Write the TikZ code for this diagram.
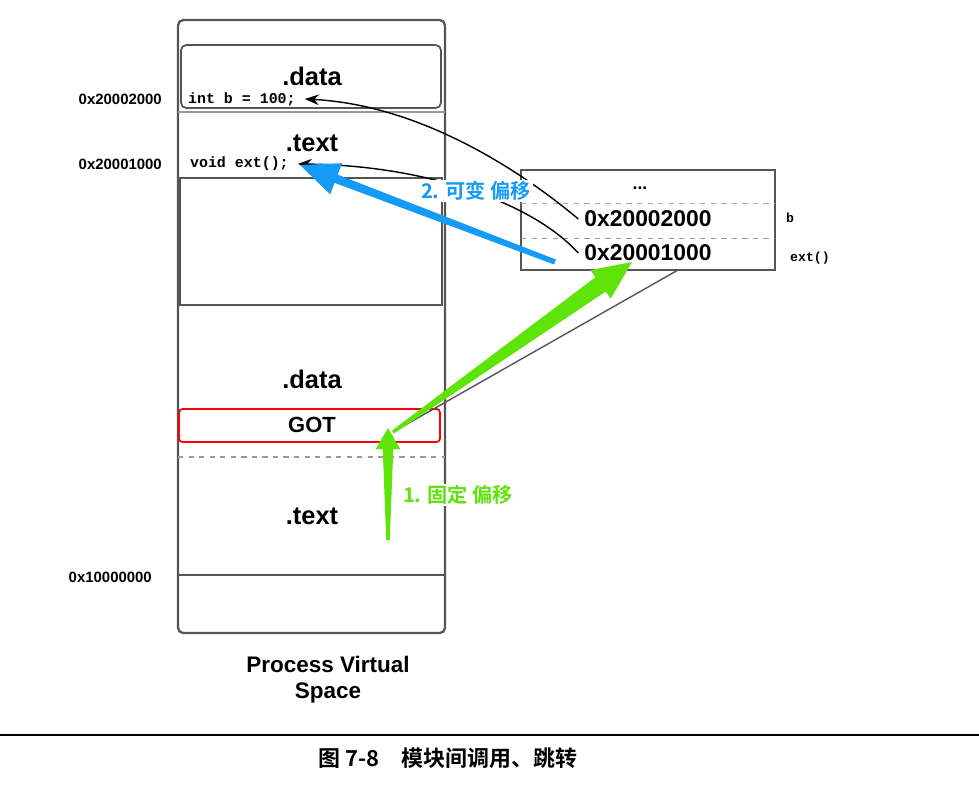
\documentclass[tikz,border=0pt]{standalone}
\usepackage{fontspec}
\setmainfont{Liberation Sans}
\setmonofont{Liberation Mono}
\newfontfamily\cjk{Noto Sans CJK SC}[BoldFont={Noto Sans CJK SC Bold}]
\usetikzlibrary{calc,arrows.meta}

\definecolor{frame}{RGB}{85,85,85}
\definecolor{arrowblue}{RGB}{20,155,245}
\definecolor{arrowgreen}{RGB}{95,228,10}

\tikzset{
  seg/.style={draw=frame, line width=1pt},
  sectlabel/.style={font=\bfseries\fontsize{14.5}{16}\selectfont},
  code/.style={font=\ttfamily\bfseries\fontsize{8.5}{10}\selectfont, anchor=west, inner sep=1pt},
  addr/.style={font=\bfseries\fontsize{8.5}{10}\selectfont, anchor=east},
  slot/.style={font=\bfseries\fontsize{13}{15}\selectfont},
  ptr/.style={-{Stealth[length=8pt,width=6pt]}, line width=0.8pt},
  steplabel/.style={font=\cjk\bfseries\fontsize{11.5}{13}\selectfont, inner sep=1pt, fill=white}
}

% tapered arrow: colour, tail, tip, tail/neck/head half-width, head length
\newcommand{\taperarrow}[7]{
  \coordinate (neck) at ($(#3)!#7!(#2)$);
  \fill[#1] ($(#2)!#4!90:(#3)$) -- ($(neck)!#5!90:(#3)$) -- ($(neck)!#6!90:(#3)$) -- (#3)
    -- ($(neck)!#6!-90:(#3)$) -- ($(neck)!#5!-90:(#3)$) -- ($(#2)!#4!-90:(#3)$) -- cycle;
}

\begin{document}
\begin{tikzpicture}[x=0.02cm,y=-0.02cm]
    \useasboundingbox (0,0) rectangle (979,789);

    % Process virtual space
    \draw[seg, line width=1.3pt, rounded corners=3pt] (178,20) rectangle (445,633);
    \draw[seg, rounded corners=3pt] (181,45) rectangle (441,108);
    \draw[seg, frame!60] (178,112) -- (445,112);
    \draw[seg] (180,178) rectangle (442,305);
    \draw[seg, dashed, frame!60] (178,457) -- (445,457);
    \draw[seg] (178,575) -- (445,575);
    \draw[red, line width=1pt, rounded corners=2pt] (179,409) rectangle (440,442);

    \node[sectlabel] (topdata) at (312,76) {.data};
    \node[code] (intb) at (186,99) {int b = 100;};
    \node[sectlabel] (toptext) at (312,143) {.text};
    \node[code] (voidext) at (188,164) {void ext();};
    \node[sectlabel] (data) at (312,379) {.data};
    \node[font=\bfseries\fontsize{12.5}{14}\selectfont] (got) at (312,425) {GOT};
    \node[sectlabel] (text) at (312,516) {.text};

    % Addresses
    \node[addr] (addrb) at (168,99) {0x20002000};
    \node[addr] (addrext) at (168,164) {0x20001000};
    \node[addr] (addrbase) at (158,577) {0x10000000};

    % GOT entries
    \draw[frame, line width=0.8pt] (521,170) rectangle (775,270);
    \draw[frame!50, dashed] (521,203) -- (775,203);
    \draw[frame!60, dashed] (521,238) -- (775,238);
    \node[font=\bfseries] (dots) at (640,188) {...};
    \node[slot] (slotb) at (648,219) {0x20002000};
    \node[slot] (slotext) at (648,253) {0x20001000};
    \node[font=\ttfamily\bfseries\fontsize{7.5}{9}\selectfont] (nameb) at (790,218) {b};
    \node[font=\ttfamily\bfseries\fontsize{7.5}{9}\selectfont] (nameext) at (810,258) {ext()};

    % Callout from GOT to table
    \coordinate (gotcorner) at (393,432);
    \coordinate (tablefoot) at (678,270);
    \draw[frame, line width=0.8pt] (gotcorner) -- (tablefoot);

    % Pointers
    \draw[ptr] (slotb.west) .. controls (520,170) and (420,105) .. ([xshift=4pt]intb.east);
    \draw[ptr] (slotext.west) .. controls (530,200) and (420,165) .. ([xshift=4pt]voidext.east);

    % 2. variable offset
    \coordinate (bluetail) at (555,262);
    \coordinate (bluetip) at (300,165);
    \taperarrow{arrowblue}{bluetail}{bluetip}{1.5pt}{2.5pt}{9.5pt}{22pt}
    \node[steplabel, text=arrowblue] (step2) at (476,191) {2. 可变 偏移};

    % 1. fixed offset
    \coordinate (greentail) at (388,540);
    \coordinate (greentip) at (388,428);
    \coordinate (slottip) at (632,262);
    \taperarrow{arrowgreen}{greentail}{greentip}{1pt}{3pt}{7pt}{12pt}
    \taperarrow{arrowgreen}{gotcorner}{slottip}{1pt}{5pt}{10pt}{22pt}
    \node[steplabel, text=arrowgreen] (step1) at (458,495) {1. 固定 偏移};

    % Caption
    \node[font=\bfseries\fontsize{12.8}{14.7}\selectfont, align=center] (pvs) at (328,680) {Process Virtual\\Space};
    \draw[line width=1pt] (0,735) -- (979,735);
    \node[font=\cjk\bfseries\fontsize{12.5}{14}\selectfont] (caption) at (448,758) {图 7-8\quad 模块间调用、跳转};
\end{tikzpicture}
\end{document}
